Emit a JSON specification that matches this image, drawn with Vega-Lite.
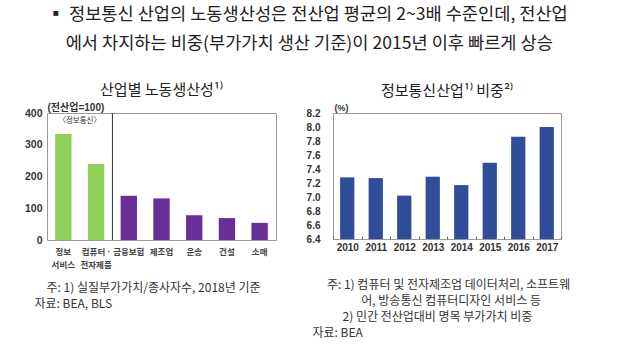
{
  "$schema": "https://vega.github.io/schema/vega-lite/v6.json",
  "background": "white",
  "padding": {"left": 23, "top": 5, "right": 5, "bottom": 5},
  "title": {
    "text": ["▪\u2005정보통신 산업의 노동생산성은 전산업 평균의 2~3배 수준인데, 전산업", "\u200b\u3000\u200a에서 차지하는 비중(부가가치 생산 기준)이 2015년 이후 빠르게 상승"],
    "anchor": "start",
    "dx": 23,
    "font": "Noto Sans CJK KR",
    "fontSize": 17.6,
    "fontWeight": "normal",
    "lineHeight": 29,
    "color": "#222222",
    "offset": 30
  },
  "spacing": 28,
  "config": {
    "view": {"stroke": "#9a9a9a", "strokeWidth": 1},
    "font": "Liberation Sans, Noto Sans CJK KR",
    "title": {"font": "Noto Sans CJK KR", "fontSize": 15, "fontWeight": "normal", "color": "#222222", "offset": 4}
  },
  "hconcat": [
    {
      "width": 229,
      "height": 127,
      "title": {"text": "산업별 노동생산성¹⁾"},
      "data": {"values": [
        {"industry": "정보서비스", "group": "정보통신", "value": 334},
        {"industry": "컴퓨터·전자제품", "group": "정보통신", "value": 239},
        {"industry": "금융보험", "group": "기타", "value": 139},
        {"industry": "제조업", "group": "기타", "value": 131},
        {"industry": "운송", "group": "기타", "value": 78},
        {"industry": "건설", "group": "기타", "value": 69},
        {"industry": "소매", "group": "기타", "value": 54}
      ]},
      "layer": [
        {
          "mark": {"type": "bar", "width": {"band": 0.5}},
          "encoding": {
            "x": {
              "field": "industry", "type": "nominal", "sort": null,
              "scale": {"domain": ["정보서비스", "컴퓨터·전자제품", "금융보험", "제조업", "운송", "건설", "소매"], "paddingInner": 0, "paddingOuter": 0},
              "axis": {
                "labelAngle": 0, "labelFontSize": 8.5, "labelFontWeight": "bold", "labelColor": "#444444",
                "labelPadding": 7, "labelLineHeight": 13,
                "labelExpr": "datum.value == '정보서비스' ? ['정보', '서비스'] : datum.value == '컴퓨터·전자제품' ? ['컴퓨터 ·', '전자제품'] : datum.value",
                "ticks": false, "domain": false,
                "title": ["\u200b\u2003주: 1) 실질부가가치/종사자수, 2018년 기준", "자료: BEA, BLS"],
                "titleFont": "Noto Sans CJK KR", "titleFontSize": 12, "titleFontWeight": "normal", "titleColor": "#333333",
                "titleAnchor": "start", "titleAlign": "left", "titleBaseline": "top",
                "titleX": -13, "titleY": 42, "titleLineHeight": 16.5
              }
            },
            "y": {
              "field": "value", "type": "quantitative",
              "scale": {"domain": [0, 400]},
              "axis": {
                "values": [0, 100, 200, 300, 400], "grid": false, "ticks": false, "domain": false, "labelOverlap": false,
                "labelFontSize": 10.5, "labelFontWeight": "bold", "labelColor": "#333333", "labelPadding": 5,
                "title": "(전산업=100)", "titleAngle": 0, "titleAlign": "left", "titleBaseline": "bottom",
                "titleX": 0, "titleY": -1, "titleFontSize": 10, "titleFontWeight": "bold", "titleColor": "#333333"
              }
            },
            "color": {
              "field": "group", "type": "nominal",
              "scale": {"domain": ["정보통신", "기타"], "range": ["#8fd05a", "#6a2e98"]},
              "legend": null
            }
          }
        },
        {
          "data": {"values": [{"note": "〈정보통신〉", "at": "컴퓨터·전자제품", "sep": "금융보험", "top": 400}]},
          "layer": [
            {
              "mark": {"type": "rule", "color": "#333333", "strokeWidth": 1},
              "encoding": {"x": {"field": "sep", "type": "nominal", "bandPosition": 0}}
            },
            {
              "mark": {"type": "text", "fontSize": 7.5, "baseline": "top", "dy": 4, "color": "#333333", "font": "Noto Sans CJK KR"},
              "encoding": {
                "x": {"field": "at", "type": "nominal", "bandPosition": 0},
                "y": {
                  "field": "top", "type": "quantitative",
                  "axis": {
                    "values": [0, 100, 200, 300, 400], "grid": false, "ticks": false, "domain": false, "labelOverlap": false,
                    "labelFontSize": 10.5, "labelFontWeight": "bold", "labelColor": "#333333", "labelPadding": 5,
                    "title": "(전산업=100)", "titleAngle": 0, "titleAlign": "left", "titleBaseline": "bottom",
                    "titleX": 0, "titleY": -1, "titleFontSize": 10, "titleFontWeight": "bold", "titleColor": "#333333"
                  }
                },
                "text": {"field": "note"}
              }
            }
          ]
        }
      ]
    },
    {
      "width": 228,
      "height": 126,
      "title": {"text": "정보통신산업¹⁾ 비중²⁾"},
      "data": {"values": [
        {"year": "2010", "share": 7.28},
        {"year": "2011", "share": 7.27},
        {"year": "2012", "share": 7.02},
        {"year": "2013", "share": 7.29},
        {"year": "2014", "share": 7.17},
        {"year": "2015", "share": 7.49},
        {"year": "2016", "share": 7.86},
        {"year": "2017", "share": 8.0}
      ]},
      "mark": {"type": "bar", "width": {"band": 0.5}, "color": "#2f4d98"},
      "encoding": {
        "x": {
          "field": "year", "type": "nominal",
          "scale": {"paddingInner": 0, "paddingOuter": 0},
          "axis": {
            "labelAngle": 0, "labelFontSize": 10, "labelFontWeight": "bold", "labelColor": "#333333", "labelPadding": 6,
            "ticks": true, "tickBand": "extent", "tickSize": -3, "tickColor": "#666666", "domain": false,
            "title": ["\u200b\u2003\u2009주: 1) 컴퓨터 및 전자제조업 데이터처리, 소프트웨", "\u200b\u2003\u2003\u2003\u2003\u200a어, 방송통신 컴퓨터디자인 서비스 등", "\u200b\u2003\u2002\u2002\u20022) 민간 전산업대비 명목 부가가치 비중", "자료: BEA"],
            "titleFont": "Noto Sans CJK KR", "titleFontSize": 12, "titleFontWeight": "normal", "titleColor": "#333333",
            "titleAnchor": "start", "titleAlign": "left", "titleBaseline": "top",
            "titleX": -21, "titleY": 40, "titleLineHeight": 16
          }
        },
        "y": {
          "field": "share", "type": "quantitative",
          "scale": {"domain": [6.4, 8.2], "zero": false, "nice": false},
          "axis": {
            "values": [6.4, 6.6, 6.8, 7.0, 7.2, 7.4, 7.6, 7.8, 8.0, 8.2], "format": ".1f", "labelOverlap": false,
            "grid": false, "ticks": false, "domain": false,
            "labelFontSize": 10, "labelFontWeight": "bold", "labelColor": "#333333", "labelPadding": 13,
            "title": "(%)", "titleAngle": 0, "titleAlign": "left", "titleBaseline": "bottom",
            "titleX": 1, "titleY": -1, "titleFontSize": 9, "titleFontWeight": "bold", "titleColor": "#333333"
          }
        },
        "y2": {"datum": 6.4}
      }
    }
  ]
}
